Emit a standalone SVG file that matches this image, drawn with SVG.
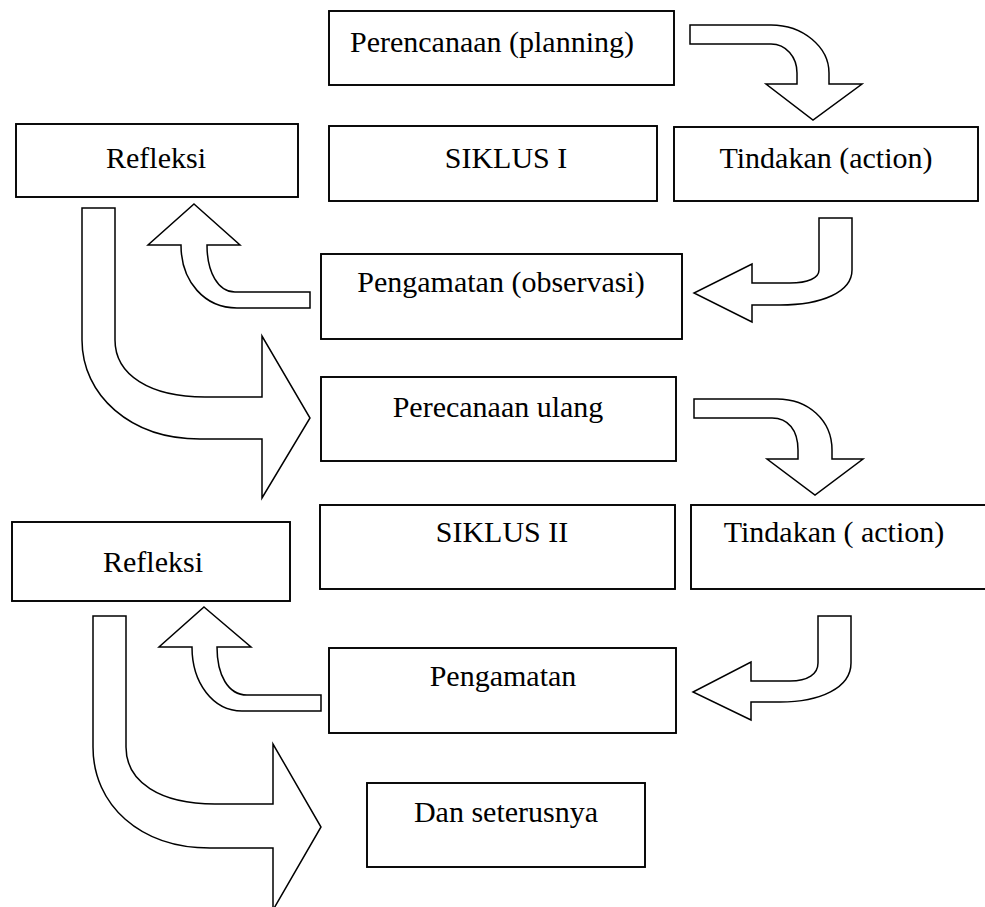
<svg xmlns="http://www.w3.org/2000/svg" width="985" height="907" viewBox="0 0 985 907">
<style>
.box{fill:#fff;stroke:#000;stroke-width:1.9}
.arr{fill:#fff;stroke:#000;stroke-width:1.5;stroke-linejoin:miter}
.t{font-family:"Liberation Serif","Times New Roman",serif;font-size:30px;fill:#000;text-anchor:middle}
</style>
<rect width="985" height="907" fill="#fff"/>
<g id="connectors">
<path class="arr" d="M690,25 H771 C803,25 829,47 829,73 V84 H862 L813,120 L766,84 H797 V73 C797,57 786,44 771,44 H690 Z"/>
<path class="arr" d="M819,218 H852 V270 C852,292 822,305 780,305 H752 V322 L694,293 L752,264 V283 H790 C808,283 819,278 819,270 Z"/>
<path class="arr" d="M194,204 L240,245 H207 C207,272 218,292 235,292 H310 V308 H237 C205,308 181,282 181,245 H148 Z"/>
<path class="arr" d="M82,208 H115 V340 C115,375 150,397 205,397 H262 V336 L310,418 L262,498 V439 H200 C130,439 82,395 82,340 Z"/>
<path class="arr" d="M694,399 H777 C808,399 832,420 832,450 V459 H863 L815,495 L767,459 H798 V450 C798,430 788,418 772,418 H694 Z"/>
<path class="arr" d="M818,616 H851 V663 C851,688 820,702 780,702 H751 V720 L693,692 L751,662 V681 H790 C808,681 818,674 818,663 Z"/>
<path class="arr" d="M204,607 L251,647 H217 C217,675 228,695 247,695 H321 V711 H242 C213,711 192,683 192,647 H159 Z"/>
<path class="arr" d="M93,616 H126 V747 C126,782 160,804 215,804 H273 V744 L321,827 L273,910 V848 H210 C140,848 93,805 93,747 Z"/>
</g>
<g id="n-planning"><rect class="box" x="329" y="11" width="345" height="74"/><text class="t" x="492" y="52">Perencanaan (planning)</text></g>
<g id="n-refleksi1"><rect class="box" x="16" y="124" width="282" height="73"/><text class="t" x="156" y="168">Refleksi</text></g>
<g id="n-siklus1"><rect class="box" x="329" y="126" width="328" height="75"/><text class="t" x="506" y="168">SIKLUS I</text></g>
<g id="n-tindakan1"><rect class="box" x="674" y="127" width="304" height="74"/><text class="t" x="826" y="168">Tindakan (action)</text></g>
<g id="n-pengamatan1"><rect class="box" x="321" y="254" width="361" height="85"/><text class="t" x="501" y="292">Pengamatan (observasi)</text></g>
<g id="n-ulang"><rect class="box" x="321" y="377" width="355" height="84"/><text class="t" x="498" y="417">Perecanaan ulang</text></g>
<g id="n-refleksi2"><rect class="box" x="12" y="522" width="278" height="79"/><text class="t" x="153" y="572">Refleksi</text></g>
<g id="n-siklus2"><rect class="box" x="320" y="505" width="355" height="84"/><text class="t" x="502" y="542">SIKLUS II</text></g>
<g id="n-tindakan2"><rect class="box" x="691" y="505" width="300" height="84"/><text class="t" x="834" y="542">Tindakan ( action)</text></g>
<g id="n-pengamatan2"><rect class="box" x="329" y="648" width="347" height="85"/><text class="t" x="503" y="686">Pengamatan</text></g>
<g id="n-dan"><rect class="box" x="367" y="783" width="278" height="84"/><text class="t" x="506" y="822">Dan seterusnya</text></g>
</svg>
